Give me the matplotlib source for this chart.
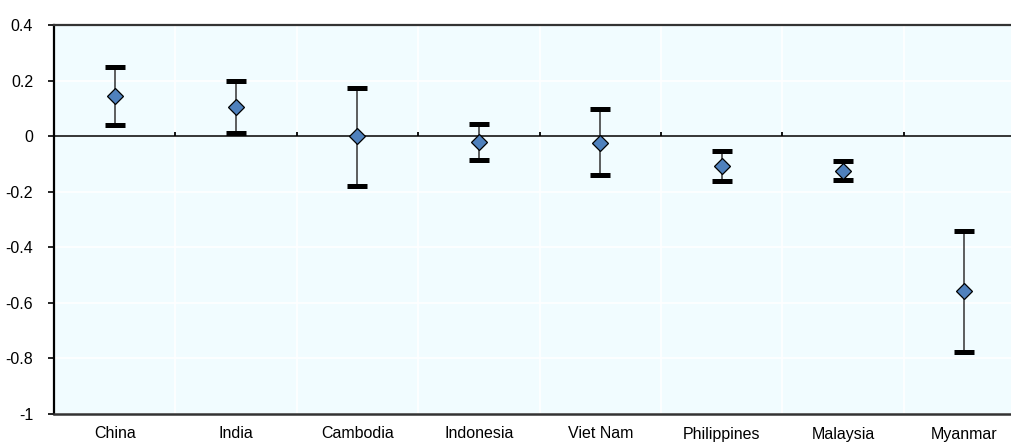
import numpy as np
import matplotlib.pyplot as plt

# Values
countries = ["China", "India", "Cambodia", "Indonesia", "Viet Nam",
             "Philippines", "Malaysia", "Myanmar"]
estimate = [0.145, 0.105, 0.0, -0.02, -0.023, -0.108, -0.125, -0.557]
upper = [0.25, 0.20, 0.174, 0.044, 0.096, -0.053, -0.091, -0.34]
lower = [0.04, 0.01, -0.178, -0.085, -0.14, -0.16, -0.158, -0.777]
yticks = [0.4, 0.2, 0, -0.2, -0.4, -0.6, -0.8, -1]

plt.rcParams['font.family'] = ['Liberation Sans', 'DejaVu Sans']
plt.rcParams['axes.unicode_minus'] = False

fig = plt.figure(figsize=(10.11, 4.42), dpi=100)
# the plot area runs past the right edge of the picture, as in the original
ax = fig.add_axes([54 / 1011, 28 / 442, 971 / 1011, 389 / 442])
ax.set_facecolor('#F1FCFF')

x = np.arange(len(countries))
est = np.array(estimate)
err = [est - np.array(lower), np.array(upper) - est]

# white grid lines
bounds = np.arange(len(countries) + 1) - 0.5
for yv in yticks:
    ax.axhline(yv, color='white', lw=1.2, zorder=0)
for b in bounds[1:-1]:
    ax.axvline(b, color='white', lw=1.2, zorder=0)

# zero line with small ticks between countries
ax.axhline(0, color='black', lw=1.1, zorder=2)
ax.vlines(bounds[1:-1], 0, 0.016, color='black', lw=1.3, zorder=2)

eb = ax.errorbar(x, est, yerr=err, fmt='none', ecolor='#333333',
                 elinewidth=1.1, capsize=7, capthick=3.6, zorder=3)
for cap in eb[1]:
    cap.set_markeredgecolor('black')
ax.plot(x, est, linestyle='none', marker='D', markersize=8.6,
        markerfacecolor='#4F81BD', markeredgecolor='black',
        markeredgewidth=0.9, zorder=4)

ax.set_xlim(-0.5, len(countries) - 0.5)
ax.set_ylim(-1, 0.4)
ax.set_yticks(yticks)
ax.set_yticklabels([f"{v:g}" for v in yticks], fontsize=11.5)
ax.set_xticks(x)
ax.set_xticklabels(countries, fontsize=11.5)
ax.tick_params(axis='x', length=0, pad=9)
ax.tick_params(axis='y', length=4, width=1.2, direction='out', pad=11)

ax.spines['left'].set_linewidth(1.6)
ax.spines['left'].set_color('black')
ax.spines['top'].set_linewidth(1.6)
ax.spines['top'].set_color('#333333')
ax.spines['bottom'].set_linewidth(1.8)
ax.spines['bottom'].set_color('#333333')
ax.spines['right'].set_visible(False)

fig.savefig('out.png', dpi=100)
